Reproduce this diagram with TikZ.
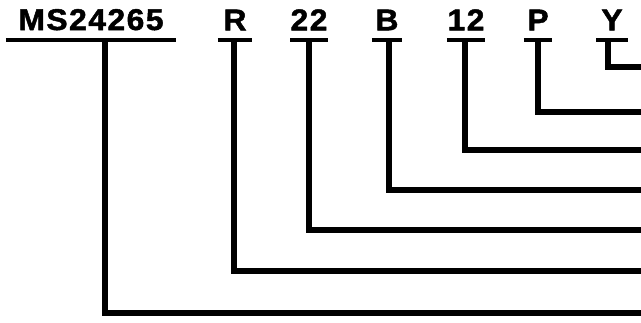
\documentclass[tikz,border=0pt]{standalone}
\usepackage{fontspec}
\setmainfont{Liberation Sans}
\newfontfamily\codefont[FakeStretch=1.06,LetterSpace=5,
  BoldFeatures={FakeBold=1.6}]{Liberation Sans}
\usetikzlibrary{positioning}
\tikzset{
  lbl/.style={font=\codefont\bfseries\fontsize{30}{30}\selectfont,
              anchor=south, inner xsep=0pt, inner ysep=9.5pt},
  ul/.style={line width=4pt},
  ld/.style={line width=6.5pt, line join=miter}
}

\begin{document}
\begin{tikzpicture}[x=1pt,y=-1pt]
\useasboundingbox (0,0) rectangle (641,322);
% code fields
\node[lbl, minimum width=170pt] (ms)  at (91,40)  {MS24265};
\node[lbl, minimum width=34pt]  (r)   at (235,40) {R};
\node[lbl, minimum width=36pt]  (n22) at (309,40) {22};
\node[lbl, minimum width=30pt]  (b)   at (387,40) {B};
\node[lbl, minimum width=38pt]  (n12) at (466,40) {12};
\node[lbl, minimum width=28pt]  (p)   at (538,40) {P};
\node[lbl, minimum width=31pt]  (y)   at (612,40) {Y};
\foreach \n in {ms,r,n22,b,n12,p,y}
  \draw[ul] (\n.south west) -- (\n.south east);
% lead ends
\coordinate (endY)   at (645,67);
\coordinate (endP)   at (645,112);
\coordinate (end12)  at (645,150);
\coordinate (endB)   at (645,190);
\coordinate (end22)  at (645,230);
\coordinate (endR)   at (645,271);
\coordinate (endMS)  at (645,313);
\draw[ld] ([xshift=-4pt]y.south) |- (endY);
\draw[ld] (p.south) |- (endP);
\draw[ld] ([xshift=-1pt]n12.south) |- (end12);
\draw[ld] ([xshift=2pt]b.south) |- (endB);
\draw[ld] (n22.south) |- (end22);
\draw[ld] ([xshift=-1pt]r.south) |- (endR);
\draw[ld] ([xshift=14pt]ms.south) |- (endMS);
\end{tikzpicture}
\end{document}
